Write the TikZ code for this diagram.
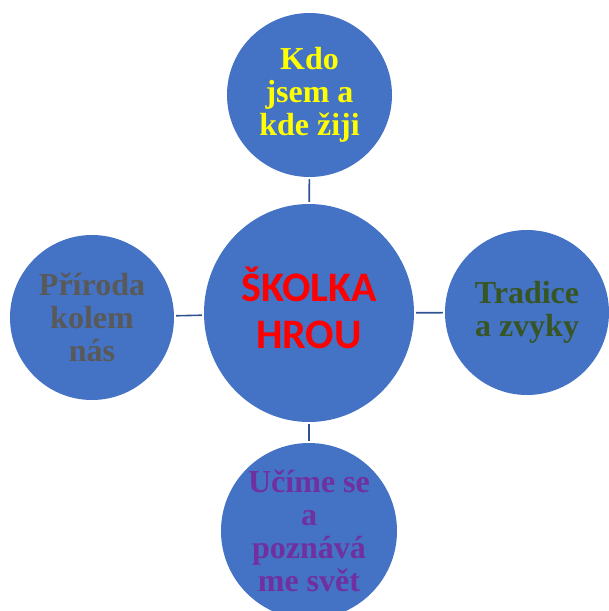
\documentclass[tikz,border=0pt]{standalone}
\usepackage{fontspec}
\setmainfont{Liberation Serif}
\newfontfamily\calibrifont{Carlito}
\usetikzlibrary{shapes.geometric}
\definecolor{bubblefill}{HTML}{4472C4}
\definecolor{linkblue}{HTML}{2F528F}
\definecolor{topyellow}{HTML}{FFFF00}
\definecolor{leftgray}{HTML}{595959}
\definecolor{rightgreen}{HTML}{375623}
\definecolor{bottompurple}{HTML}{7030A0}

\begin{document}
\begin{tikzpicture}[x=1pt,y=-1pt,
    bubble/.style={ellipse,fill=bubblefill,inner sep=0pt,align=center,
        font=\fontsize{32}{33}\selectfont\bfseries},
    link/.style={draw=linkblue,line width=1.6pt,shorten <=2pt,shorten >=2pt}]
    \useasboundingbox (0,0) rectangle (609,611);
    % Central bubble
    \node[bubble,minimum width=210pt,minimum height=218pt,text=red,text depth=10pt,
        font=\calibrifont\fontsize{42}{47}\selectfont\bfseries] (centre) at (309,313) {ŠKOLKA\\HROU};
    % Outer bubbles
    \node[bubble,minimum width=165pt,minimum height=164pt,text=topyellow] (who) at (309.5,95) {Kdo\\jsem a\\kde žiji};
    \node[bubble,minimum width=164pt,minimum height=165pt,text=leftgray] (nature) at (92,317.5) {Příroda\\kolem\\nás};
    \node[bubble,minimum width=164pt,minimum height=165pt,text=rightgreen] (custom) at (527,312.5) {Tradice\\a zvyky};
    \node[bubble,minimum width=176pt,minimum height=176pt,text=bottompurple] (world) at (309,531) {Učíme se\\a\\poznává\\me svět};
    % Links
    \foreach \outer in {who,nature,custom,world} {
        \draw[link] (centre) -- (\outer);
    }
\end{tikzpicture}
\end{document}
